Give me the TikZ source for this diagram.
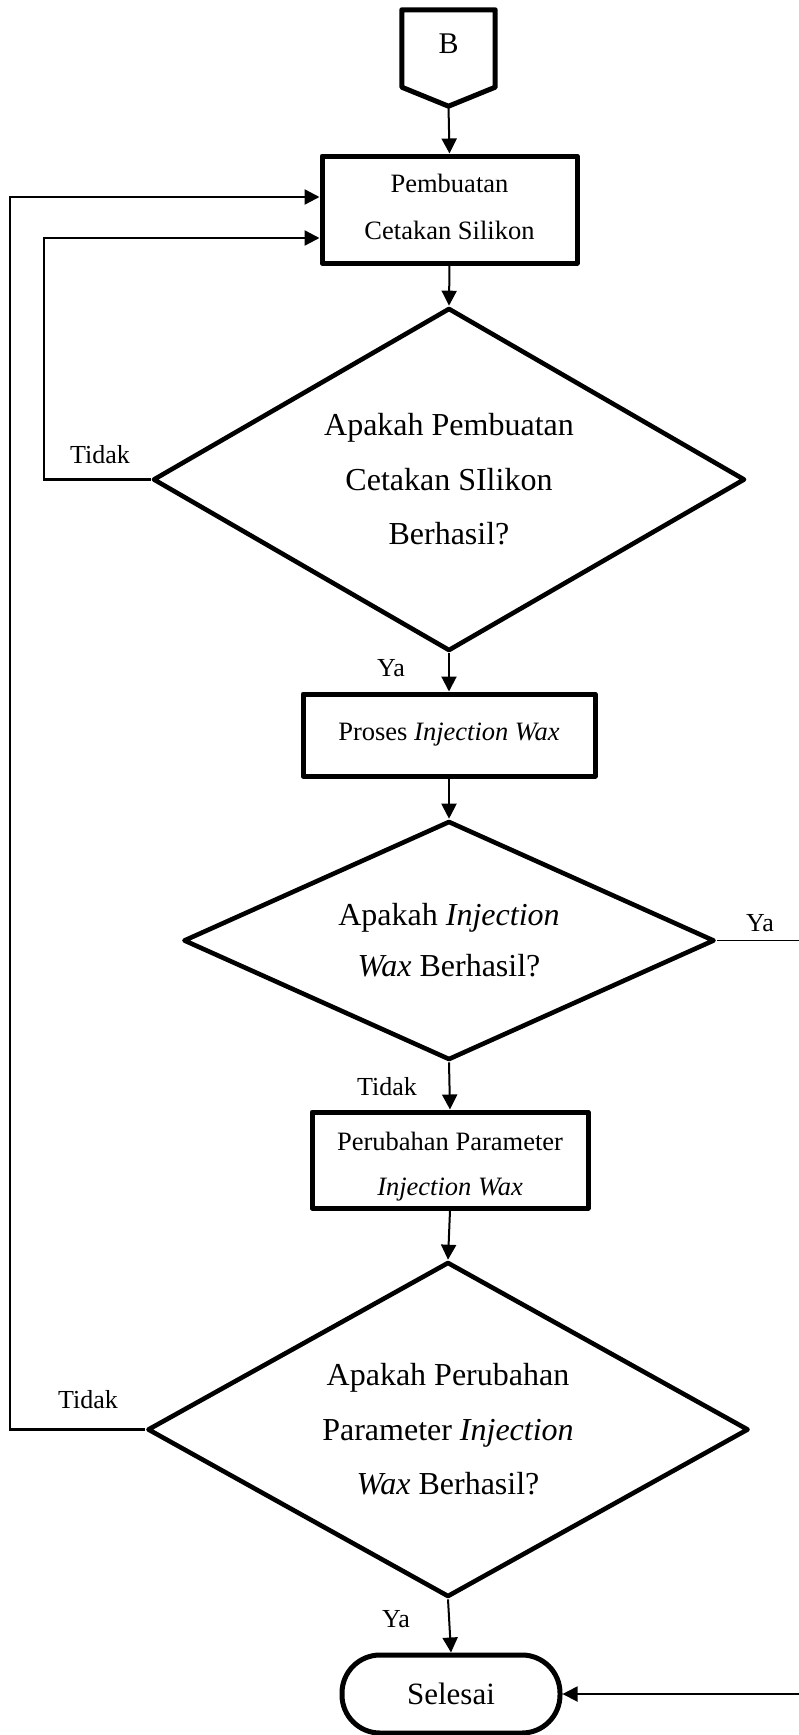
\documentclass[tikz,border=0pt]{standalone}
\usepackage{fontspec}
\setmainfont{Liberation Serif}
\usetikzlibrary{shapes.geometric,arrows.meta,calc}
\newcommand{\shiftln}[2]{\raisebox{#1}[\height][\depth]{#2}}
\begin{document}
\begin{tikzpicture}[x=1pt,y=-1pt,
  boxst/.style={draw,line width=5pt,line join=round,inner sep=0pt,align=center,
    font=\fontsize{26.5pt}{47pt}\selectfont},
  dia/.style={draw,diamond,line width=4.6pt,line join=round,inner sep=0pt,align=center,
    font=\fontsize{32pt}{54.5pt}\selectfont},
  arr/.style={line width=2pt,-{Triangle[length=15pt,width=15pt]}},
  looparr/.style={line width=2.4pt,-{Triangle[length=15pt,width=15pt]}},
  yaarr/.style={line width=1.8pt,-{Triangle[length=15pt,width=15pt]}},
  lab/.style={inner sep=0pt,font=\fontsize{26pt}{30pt}\selectfont}]
\useasboundingbox (0,0) rectangle (799,1735);

% off-page connector
\node[inner sep=0pt,minimum width=93pt,minimum height=77pt,font=\fontsize{30pt}{34pt}\selectfont] (B) at (448.5,48.5) {\shiftln{5pt}{B}};
\draw[line width=5pt,line join=round] (B.north west) -- (B.north east) -- (B.south east)
  -- ($(B.south)+(0,19)$) coordinate (Bp) -- (B.south west) -- cycle;

% process boxes
\node[boxst,minimum width=255pt,minimum height=107pt] (p1) at (449.5,209.5) {\shiftln{2.5pt}{Pembuatan}\\\shiftln{2.5pt}{Cetakan Silikon}};
\node[dia,minimum width=592pt,minimum height=343pt,aspect=1.73] (d1) at (449,479.5) {Apakah Pembuatan\\Cetakan SIlikon\\Berhasil?};
\node[boxst,minimum width=292pt,minimum height=82pt] (p2) at (449,735) {Proses \textit{Injection Wax}};
\node[dia,minimum width=531pt,minimum height=239pt,aspect=2.22,font=\fontsize{32pt}{51pt}\selectfont] (d2) at (449,940.5) {Apakah \textit{Injection}\\\textit{Wax} Berhasil?};
\node[boxst,minimum width=276pt,minimum height=96pt,font=\fontsize{26.5pt}{45pt}\selectfont] (p3) at (450,1160) {\shiftln{-7pt}{Perubahan Parameter}\\\shiftln{-7pt}{\textit{Injection Wax}}};
\node[dia,minimum width=601pt,minimum height=335pt,aspect=1.79] (d3) at (448,1429.5) {Apakah Perubahan\\Parameter \textit{Injection}\\\textit{Wax} Berhasil?};
\node[draw,line width=5pt,rounded corners=38pt,minimum width=218pt,minimum height=78pt,inner sep=0pt,font=\fontsize{31pt}{35pt}\selectfont] (end) at (451,1694) {Selesai};

% main flow
\draw[arr] (Bp) -- (p1.north);
\draw[arr] (p1.south) -- (d1.north);
\draw[arr] (d1.south) -- (p2.north);
\draw[arr] (p2.south) -- (d2.north);
\draw[arr] (d2.south) -- (p3.north);
\draw[arr] (p3.south) -- (d3.north);
\draw[arr] (d3.south) -- (end.north);

% loops
\coordinate (L1) at (44,0);
\coordinate (L2) at (10,0);
\coordinate (R) at (808,0);
\draw[looparr] (d1.west) -- (d1.west -| L1) |- ([yshift=-28.5pt]p1.west);
\draw[looparr] (d3.west) -- (d3.west -| L2) |- ([yshift=12.5pt]p1.west);
\draw[yaarr] (d2.east) -- (d2.east -| R) |- (end.east);

% labels
\node[lab] (t1) at (100,455) {Tidak};
\node[lab] (y1) at (391,668) {Ya};
\node[lab] (y2) at (760,923) {Ya};
\node[lab] (t2) at (387,1087) {Tidak};
\node[lab] (t3) at (88,1400) {Tidak};
\node[lab] (y3) at (396,1619) {Ya};
\end{tikzpicture}
\end{document}
